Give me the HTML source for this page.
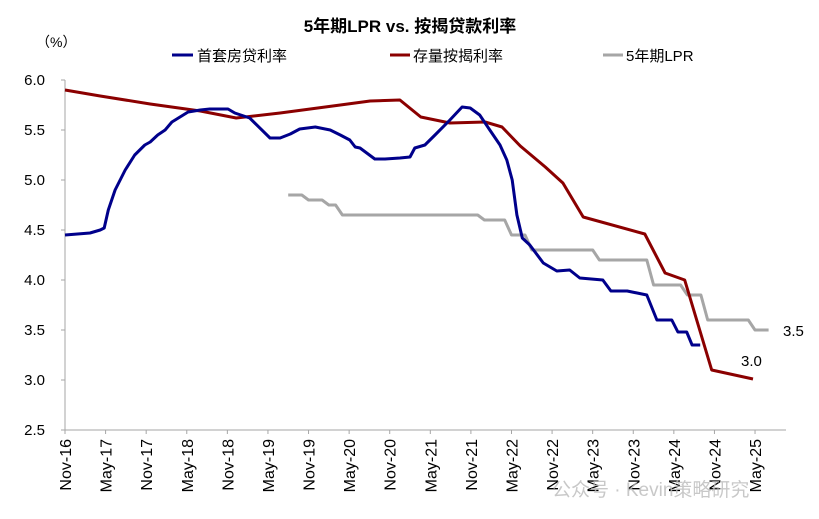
<!DOCTYPE html>
<html><head><meta charset="utf-8"><style>
body{margin:0;background:#fff;}
svg{display:block;font-family:"Liberation Sans","Noto Sans CJK SC",sans-serif;}
</style></head><body>
<svg id="chart" width="819" height="519" viewBox="0 0 819 519">
<text x="410" y="32" text-anchor="middle" font-size="17" font-weight="bold">5年期LPR vs. 按揭贷款利率</text>
<text x="36" y="47" font-size="14">（%）</text>
<g>
<line x1="172" y1="55" x2="193" y2="55" stroke="#00008b" stroke-width="3"/>
<text x="197" y="61" font-size="15">首套房贷利率</text>
<line x1="390" y1="55" x2="410" y2="55" stroke="#8b0000" stroke-width="3"/>
<text x="413" y="61" font-size="15">存量按揭利率</text>
<line x1="603" y1="55" x2="623" y2="55" stroke="#a6a6a6" stroke-width="3"/>
<text x="626" y="61" font-size="15">5年期LPR</text>
</g>
<g id="axes"></g>
<g id="series"></g>
<text x="783" y="336" font-size="15">3.5</text>
<text x="741" y="366" font-size="15">3.0</text>
<text x="552" y="496" font-size="19" fill="#bbb" opacity="0.8">公众号 · Kevin策略研究</text>
</svg>
<script>
const xLabels=["Nov-16","May-17","Nov-17","May-18","Nov-18","May-19","Nov-19","May-20","Nov-20","May-21","Nov-21","May-22","Nov-22","May-23","Nov-23","May-24","Nov-24","May-25"];
const yTicks=[2.5,3.0,3.5,4.0,4.5,5.0,5.5,6.0];
const blueMonths=[0,3.7,5.2,5.8,6.4,7.4,8.9,10.3,11.8,12.6,13.7,14.8,15.8,17,18.2,20,21.4,24.1,25.1,27.3,30.3,31.8,33.3,34.7,37,39.2,40.7,42.1,42.9,43.6,45.8,47.3,49.5,51,51.7,53.2,54.7,56.9,58.7,59.9,61.3,62.8,64.3,65.3,66.1,66.8,67.6,68.7,70.7,72.7,74.6,76.1,79.5,80.7,83.1,86,87.5,89.7,90.6,91.9,92.7,93.9];
const blueValues=[4.45,4.47,4.50,4.52,4.70,4.90,5.10,5.25,5.35,5.38,5.45,5.50,5.58,5.63,5.68,5.70,5.71,5.71,5.67,5.62,5.42,5.42,5.46,5.51,5.53,5.50,5.45,5.40,5.33,5.32,5.21,5.21,5.22,5.23,5.32,5.35,5.45,5.60,5.73,5.72,5.65,5.50,5.35,5.20,5.00,4.65,4.42,4.35,4.17,4.09,4.10,4.02,4.00,3.89,3.89,3.85,3.60,3.60,3.48,3.48,3.35,3.35];
const redMonths=[0,5.2,12.6,20,25.3,31.8,40.7,45.1,49.5,52.6,56.9,62.1,64.6,67.3,71,73.6,76.6,85.7,88.7,91.6,95.6,101.7];
const redValues=[5.90,5.84,5.76,5.69,5.62,5.67,5.75,5.79,5.80,5.63,5.57,5.58,5.53,5.34,5.13,4.97,4.63,4.46,4.07,4.00,3.10,3.01];
const lprStart=33;
const lprValues=[4.85,4.85,4.85,4.80,4.80,4.80,4.75,4.75,4.65,4.65,4.65,4.65,4.65,4.65,4.65,4.65,4.65,4.65,4.65,4.65,4.65,4.65,4.65,4.65,4.65,4.65,4.65,4.65,4.65,4.60,4.60,4.60,4.60,4.45,4.45,4.45,4.30,4.30,4.30,4.30,4.30,4.30,4.30,4.30,4.30,4.30,4.20,4.20,4.20,4.20,4.20,4.20,4.20,4.20,3.95,3.95,3.95,3.95,3.95,3.85,3.85,3.85,3.60,3.60,3.60,3.60,3.60,3.60,3.60,3.50,3.50,3.50];

const NS="http://www.w3.org/2000/svg";
const X0=65,MPX=6.765,Y0=430;
function xs(m){return X0+m*MPX;}
function ys(v){return Y0-(v-2.5)*100;}
function mk(t,a,p){const e=document.createElementNS(NS,t);for(const k in a)e.setAttribute(k,a[k]);p.appendChild(e);return e;}
const ax=document.getElementById('axes');
const yl=mk('line',{x1:X0,y1:ys(6),x2:X0,y2:Y0,stroke:'#a6a6a6','stroke-width':1},ax);


const xl=mk('line',{x1:X0,y1:Y0,x2:786,y2:Y0,stroke:'#a6a6a6','stroke-width':1},ax);


yTicks.forEach(v=>{
  mk('line',{x1:X0-4,y1:ys(v),x2:X0,y2:ys(v),stroke:'#a6a6a6'},ax);
  const t=mk('text',{x:45,y:ys(v)+5,'text-anchor':'end','font-size':15},ax);
  
  
  t.textContent=v.toFixed(1);
});
xLabels.forEach((s,i)=>{
  const x=xs(i*6);
  mk('line',{x1:x,y1:Y0,x2:x,y2:Y0+4,stroke:'#a6a6a6'},ax);
  const t=mk('text',{x:0,y:0,'text-anchor':'end','font-size':16,transform:`translate(${x+6},${Y0+9}) rotate(-90)`},ax);
  
  
  t.textContent=s;
});
const sg=document.getElementById('series');
function line(ms,vs,color,name){
  const d=ms.map((m,i)=>(i?'L':'M')+xs(m).toFixed(1)+','+ys(vs[i]).toFixed(1)).join('');
  const p=mk('path',{d:d,fill:'none',stroke:color,'stroke-width':3,'stroke-linejoin':'round'},sg);
  
  
}
const lprMonths=lprValues.map((v,i)=>lprStart+i);
line(lprMonths,lprValues,'#a6a6a6','line-5y-lpr');
line(redMonths,redValues,'#8b0000','line-existing-mortgage-rate');
line(blueMonths,blueValues,'#00008b','line-first-home-rate');
</script>
</body></html>
